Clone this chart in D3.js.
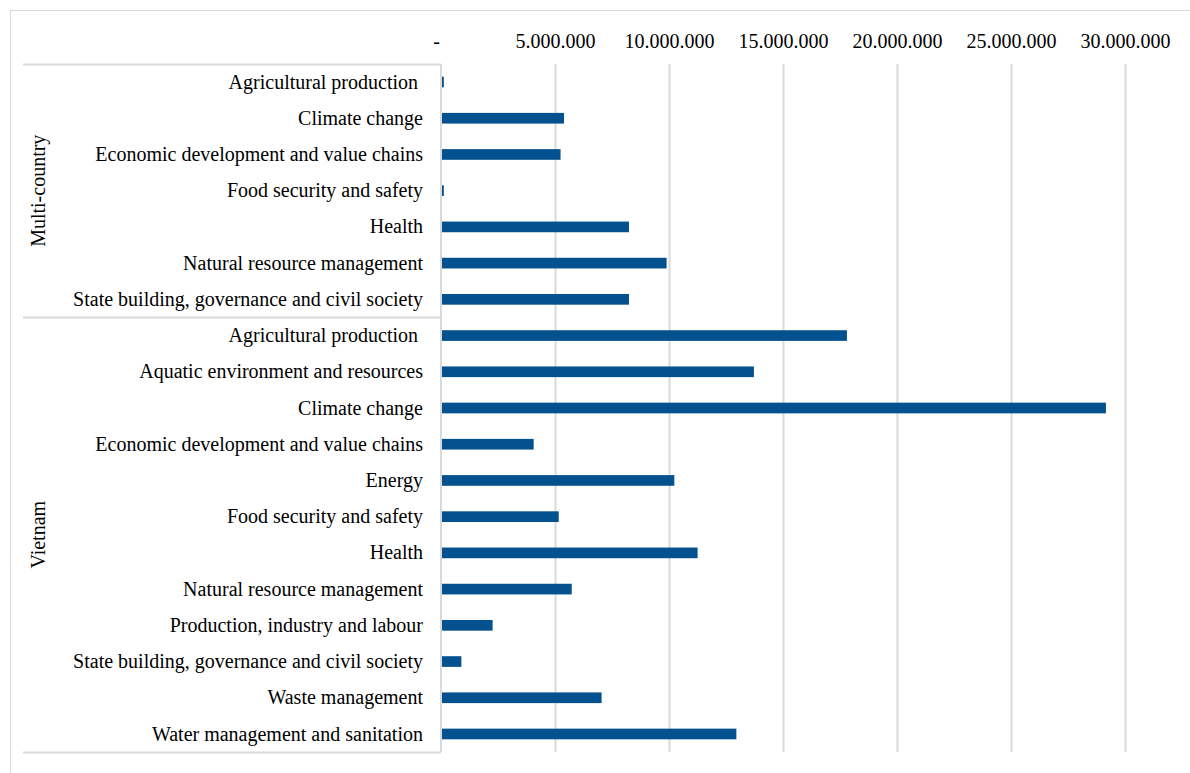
<!DOCTYPE html>
<html>
<head>
  <script type="text/javascript" src="https://d3js.org/d3.v7.min.js"></script>
</head>
<body>
<style type="text/css">
  html,
  body {
    margin: 0px;
    background: #fff;
  }

  svg text {
    font-family: "Liberation Serif", "DejaVu Serif", serif;
    fill: #000;
  }

  .data-bar {
    fill: #03528f;
  }
</style>

<script>
"use strict";

// Data
const GROUPS = ["Multi-country", "Vietnam"];
const MULTI_CATEGORIES = [
  "Agricultural production",
  "Climate change",
  "Economic development and value chains",
  "Food security and safety",
  "Health",
  "Natural resource management",
  "State building, governance and civil society"
];
const MULTI_VALUES = [80000, 5350000, 5200000, 80000, 8200000, 9850000, 8200000];
const VIETNAM_CATEGORIES = [
  "Agricultural production",
  "Aquatic environment and resources",
  "Climate change",
  "Economic development and value chains",
  "Energy",
  "Food security and safety",
  "Health",
  "Natural resource management",
  "Production, industry and labour",
  "State building, governance and civil society",
  "Waste management",
  "Water management and sanitation"
];
const VIETNAM_VALUES = [17760000, 13680000, 29120000, 4020000, 10190000, 5120000, 11210000, 5690000, 2220000, 850000, 7000000, 12910000];
const X_TICKS = [0, 5000000, 10000000, 15000000, 20000000, 25000000, 30000000];

// Dimensions
const WIDTH = 1190;
const HEIGHT = 773;
const CHART_LEFT = 441; // x of the zero line
const CHART_RIGHT = 1125; // x of 30.000.000
const CHART_TOP = 64;
const CHART_BOTTOM = 752;
const BOX_LEFT = 23;
const FONT_SIZE = 20;
const GRID_COLOR = "#d9d9d9";

// Build rows
const ROWS = [];
MULTI_CATEGORIES.forEach(function(c, i) {
  ROWS.push({ group: GROUPS[0], name: c, value: MULTI_VALUES[i], key: "m" + i });
});
VIETNAM_CATEGORIES.forEach(function(c, i) {
  ROWS.push({ group: GROUPS[1], name: c, value: VIETNAM_VALUES[i], key: "v" + i });
});

const SVG = d3.select("body")
  .append("svg")
  .attr("width", WIDTH)
  .attr("height", HEIGHT);

// Outer chart border
SVG.append("rect")
  .attr("x", 10.5)
  .attr("y", 10.5)
  .attr("width", WIDTH + 10)
  .attr("height", HEIGHT + 10)
  .attr("fill", "none")
  .attr("stroke", GRID_COLOR);

const X_SCALE = d3.scaleLinear()
  .domain([0, 30000000])
  .range([CHART_LEFT, CHART_RIGHT]);

const Y_SCALE = d3.scaleBand()
  .domain(ROWS.map(function(d) { return d.key; }))
  .range([CHART_TOP, CHART_BOTTOM])
  .paddingInner(0.705)
  .paddingOuter(0.35);

// Gridlines
SVG.append("g")
  .selectAll("line")
  .data(X_TICKS.slice(1))
  .enter()
  .append("line")
  .attr("x1", function(d) { return Math.round(X_SCALE(d)) + 0.5; })
  .attr("x2", function(d) { return Math.round(X_SCALE(d)) + 0.5; })
  .attr("y1", CHART_TOP)
  .attr("y2", CHART_BOTTOM)
  .attr("stroke", GRID_COLOR)
  .attr("stroke-width", 2);

// Top axis labels
const LOCALE = d3.formatLocale({ decimal: ",", thousands: ".", grouping: [3], currency: ["", ""] });
const FMT = LOCALE.format(",.0f");

const X_AXIS = SVG.append("g")
  .attr("transform", "translate(0," + 52 + ")")
  .call(d3.axisTop(X_SCALE)
    .tickValues(X_TICKS)
    .tickSize(0)
    .tickPadding(0)
    .tickFormat(function(d) { return d === 0 ? "-" : FMT(d); }));
X_AXIS.select(".domain").remove();
X_AXIS.selectAll("text")
  .attr("font-size", FONT_SIZE)
  .attr("font-family", null)
  .attr("fill", null)
  .attr("dy", "-0.2em")
  .attr("dx", function(d) { return d === 0 ? -5 : 0; });

// Category box lines
const boundaryY = [CHART_TOP, Y_SCALE("v0") - Y_SCALE.step() * Y_SCALE.paddingInner() / 2, CHART_BOTTOM];
SVG.append("g")
  .selectAll("line")
  .data(boundaryY)
  .enter()
  .append("line")
  .attr("x1", BOX_LEFT)
  .attr("x2", CHART_LEFT)
  .attr("y1", function(d) { return Math.round(d) + 0.5; })
  .attr("y2", function(d) { return Math.round(d) + 0.5; })
  .attr("stroke", GRID_COLOR)
  .attr("stroke-width", 2);

SVG.append("line")
  .attr("x1", CHART_LEFT)
  .attr("x2", CHART_LEFT)
  .attr("y1", CHART_TOP)
  .attr("y2", CHART_BOTTOM)
  .attr("stroke", GRID_COLOR)
  .attr("stroke-width", 2);

// Category labels
SVG.append("g")
  .selectAll("text")
  .data(ROWS)
  .enter()
  .append("text")
  .attr("x", function(d) { return d.name === "Agricultural production" ? 418 : 423; })
  .attr("y", function(d) { return Y_SCALE(d.key) + Y_SCALE.bandwidth() / 2; })
  .attr("dy", "0.33em")
  .attr("text-anchor", "end")
  .attr("font-size", FONT_SIZE)
  .text(function(d) { return d.name; });

// Group labels
const groupSpans = [[boundaryY[0], boundaryY[1]], [boundaryY[1], boundaryY[2]]];
SVG.append("g")
  .selectAll("text")
  .data(GROUPS)
  .enter()
  .append("text")
  .attr("transform", function(d, i) {
    return "translate(38," + (groupSpans[i][0] + groupSpans[i][1]) / 2 + ") rotate(-90)";
  })
  .attr("dy", "0.33em")
  .attr("text-anchor", "middle")
  .attr("font-size", FONT_SIZE)
  .text(function(d) { return d; });

// Bars
SVG.append("g")
  .selectAll(".data-bar")
  .data(ROWS)
  .enter()
  .append("rect")
  .classed("data-bar", true)
  .attr("x", X_SCALE(0) + 1)
  .attr("y", function(d) { return Y_SCALE(d.key); })
  .attr("width", function(d) { return Math.max(X_SCALE(d.value) - X_SCALE(0), 1.5); })
  .attr("height", Y_SCALE.bandwidth());
</script>
</body>
</html>
